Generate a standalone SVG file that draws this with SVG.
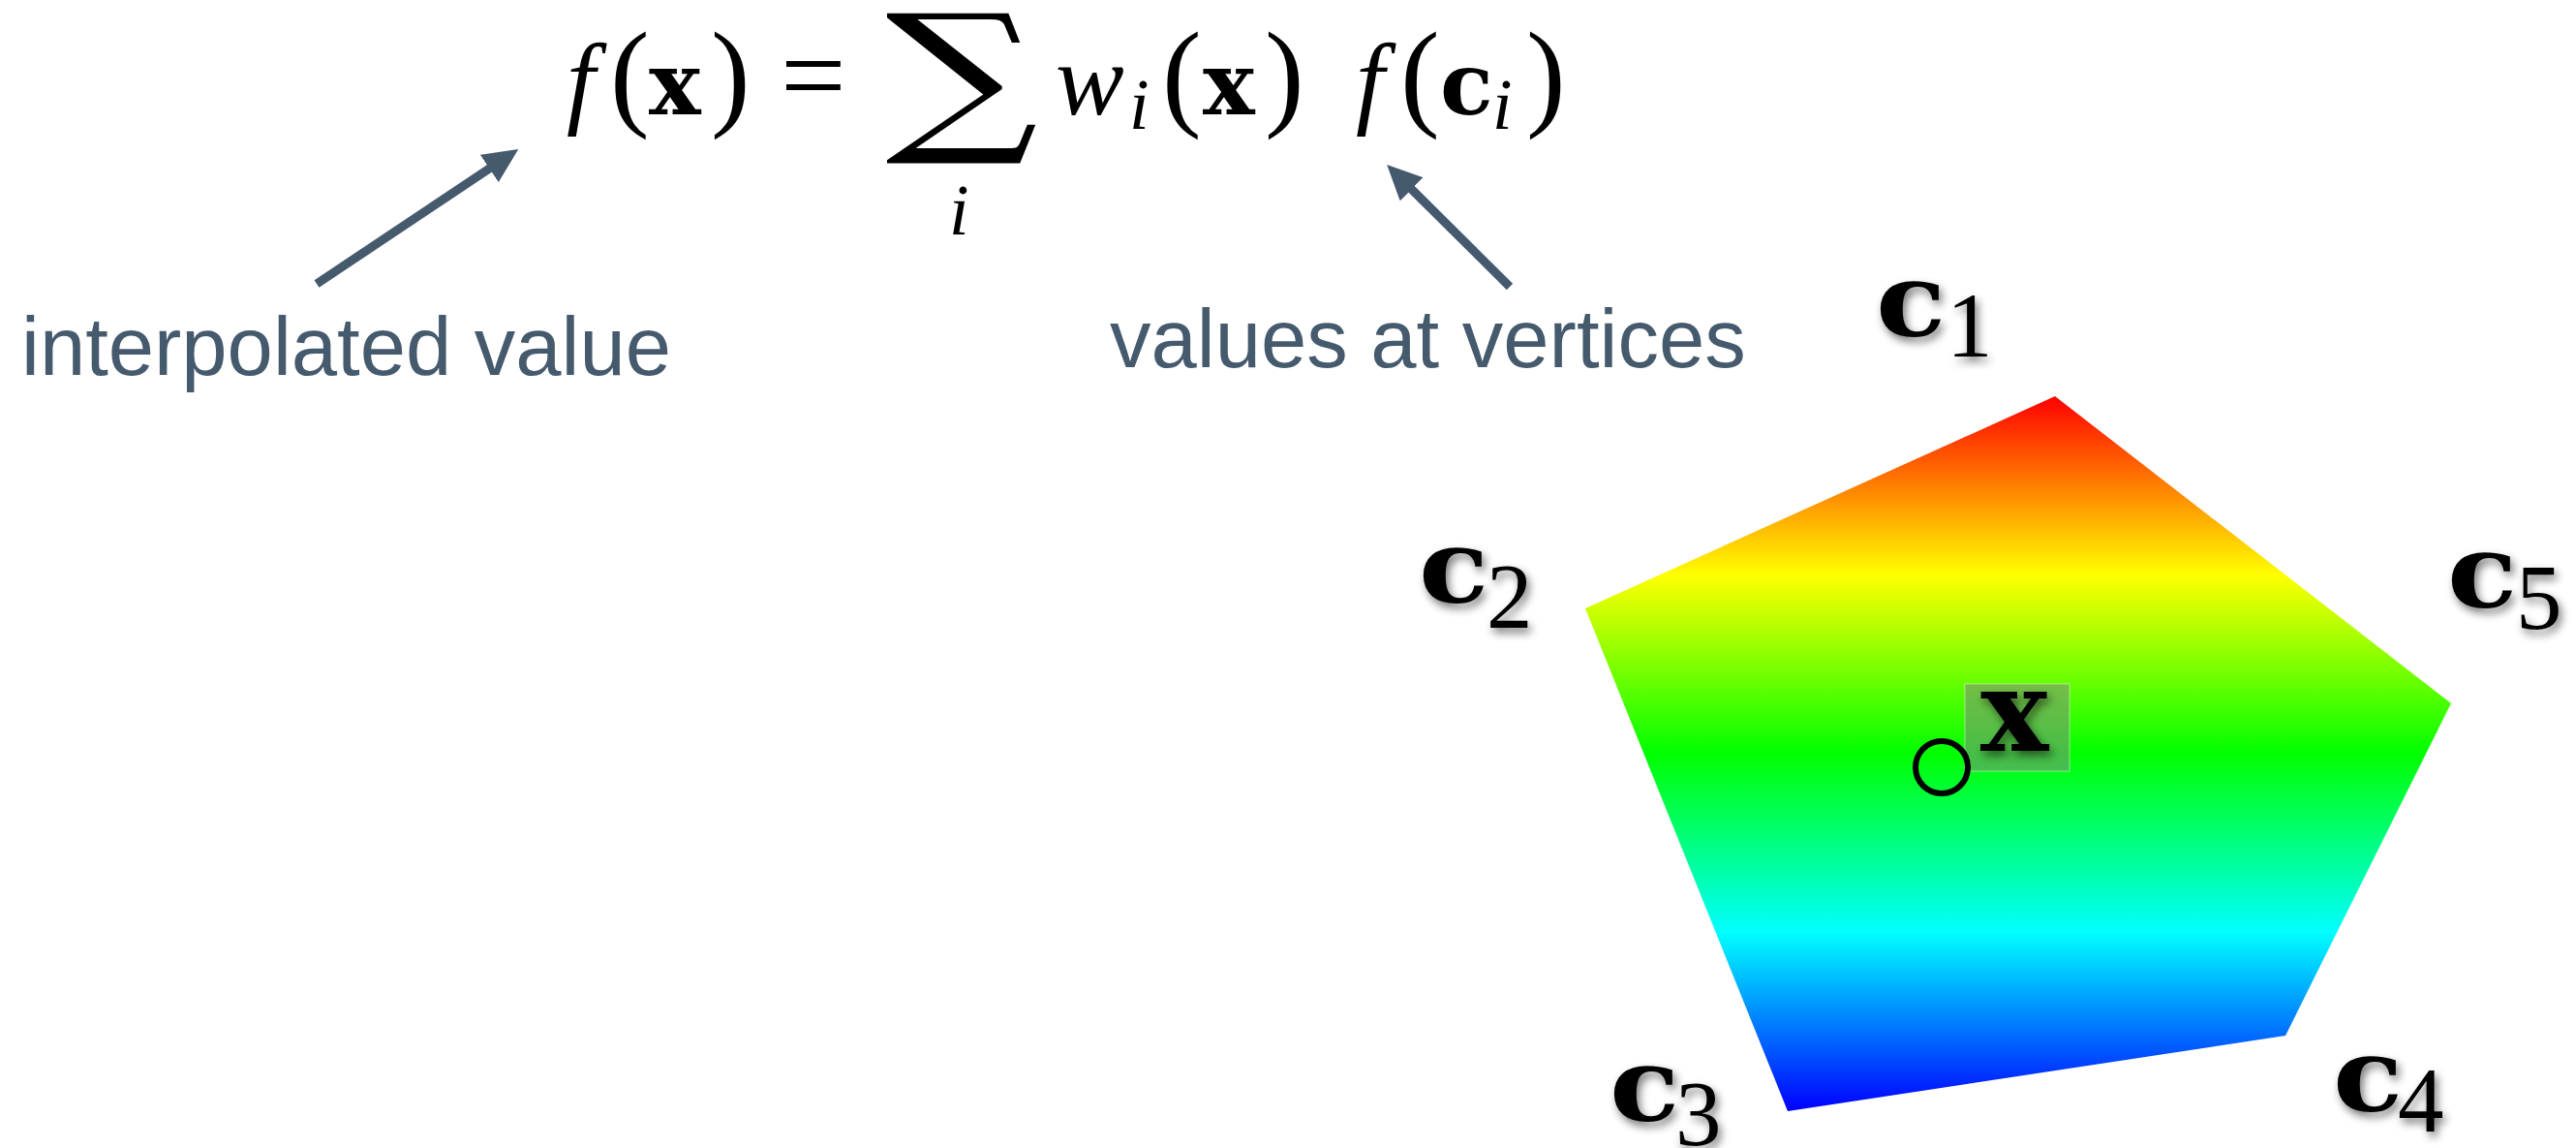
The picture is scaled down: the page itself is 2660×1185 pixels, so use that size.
<svg xmlns="http://www.w3.org/2000/svg" width="2660" height="1185" viewBox="0 0 2660 1185">
<style>
.lbl{font-family:"Liberation Sans",Arial,sans-serif;font-size:85px;fill:#465a6e}
.mi{font-family:"Liberation Serif","Times New Roman",serif;font-style:italic;fill:#000}
.mr{font-family:"Liberation Serif","Times New Roman",serif;fill:#000}
.mb{font-family:"DejaVu Serif",serif;font-weight:bold;fill:#000}
.cl{font-family:"DejaVu Serif",serif;font-weight:bold;fill:#000;font-size:104px}
.sub{font-family:"Liberation Serif","Times New Roman",serif;fill:#000;font-size:95px}
.conn{stroke:#465a6e;stroke-width:9;fill:none;marker-end:url(#ah)}
</style>
<defs>
<linearGradient id="rainbow" gradientUnits="userSpaceOnUse" x1="0" y1="409" x2="0" y2="1147">
<stop offset="0" stop-color="#ff0000"/>
<stop offset="0.25" stop-color="#ffff00"/>
<stop offset="0.5" stop-color="#00ff00"/>
<stop offset="0.75" stop-color="#00ffff"/>
<stop offset="1" stop-color="#0000ff"/>
</linearGradient>
<marker id="ah" markerUnits="userSpaceOnUse" viewBox="0 0 36 34" refX="8" refY="17" markerWidth="36" markerHeight="34" orient="auto">
<path d="M0,0 L36,17 L0,34 z" fill="#465a6e"/>
</marker>
<filter id="sh" x="-30%" y="-30%" width="160%" height="160%">
<feGaussianBlur in="SourceAlpha" stdDeviation="5"/>
<feOffset dx="3" dy="5" result="b"/>
<feComponentTransfer><feFuncA type="linear" slope="0.55"/></feComponentTransfer>
<feMerge><feMergeNode/><feMergeNode in="SourceGraphic"/></feMerge>
</filter>
</defs>

<g id="formula">
<text class="mi" x="585" y="118" font-size="106">f</text>
<text class="mr" x="630" y="118" font-size="122">(</text>
<text class="mb" x="670" y="118" font-size="90">x</text>
<text class="mr" x="734" y="118" font-size="122">)</text>
<text class="mr" x="806" y="118" font-size="120">=</text>
<text class="mr" x="0" y="0" font-size="170" text-anchor="middle" style="font-family:'DejaVu Serif',serif" transform="translate(993,136) scale(1.3,1)">∑</text>
<text class="mi" x="980" y="242" font-size="74">i</text>
<text class="mi" x="1090" y="118" font-size="106">w</text>
<text class="mi" x="1166" y="133" font-size="74">i</text>
<text class="mr" x="1200" y="118" font-size="122">(</text>
<text class="mb" x="1242" y="118" font-size="90">x</text>
<text class="mr" x="1306" y="118" font-size="122">)</text>
<text class="mi" x="1400" y="118" font-size="106">f</text>
<text class="mr" x="1446" y="118" font-size="122">(</text>
<text class="mb" x="1487" y="118" font-size="90">c</text>
<text class="mi" x="1541" y="133" font-size="74">i</text>
<text class="mr" x="1576" y="118" font-size="122">)</text>
</g>

<g id="label-interpolated"><text class="lbl" x="22" y="387">interpolated value</text></g>
<g id="label-values"><text class="lbl" x="1146" y="379">values at vertices</text></g>

<g id="polygon">
<polygon points="2122,409 1637,628 1846,1147 2360,1069 2531,726" fill="url(#rainbow)"/>
</g>

<g id="point-x">
<rect x="2029" y="706" width="108" height="90" fill="#848484" fill-opacity="0.53" stroke="#ffffff" stroke-opacity="0.3" stroke-width="1.5"/>
<text class="mb" x="2045" y="775" font-size="118" filter="url(#sh)">x</text>
<circle cx="2005" cy="792" r="27" fill="none" stroke="#000" stroke-width="6"/>
</g>

<g id="c1" filter="url(#sh)"><text class="cl" x="0" y="0" transform="translate(1937,347) scale(1.14,1)">c</text><text class="sub" x="2010" y="368">1</text></g>
<g id="c2" filter="url(#sh)"><text class="cl" x="0" y="0" transform="translate(1465,622) scale(1.14,1)">c</text><text class="sub" x="1535" y="648">2</text></g>
<g id="c3" filter="url(#sh)"><text class="cl" x="0" y="0" transform="translate(1662,1157) scale(1.14,1)">c</text><text class="sub" x="1730" y="1182">3</text></g>
<g id="c4" filter="url(#sh)"><text class="cl" x="0" y="0" transform="translate(2409,1147) scale(1.14,1)">c</text><text class="sub" x="2476" y="1168">4</text></g>
<g id="c5" filter="url(#sh)"><text class="cl" x="0" y="0" transform="translate(2527,627) scale(1.14,1)">c</text><text class="sub" x="2598" y="649">5</text></g>

<g id="connectors">
<line class="conn" x1="327" y1="293" x2="512" y2="169.5"/>
<line class="conn" x1="1559" y1="296" x2="1452" y2="189.7"/>
</g>
</svg>
